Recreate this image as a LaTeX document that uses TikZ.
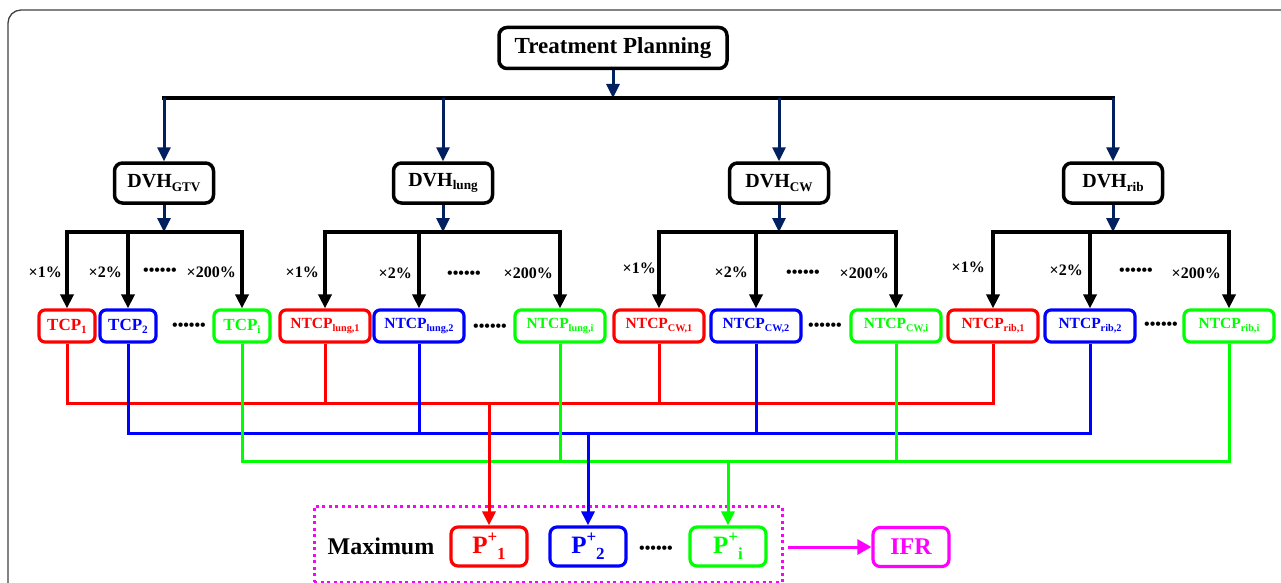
\documentclass[tikz,border=0pt]{standalone}
\usepackage{fontspec}
\setmainfont{Liberation Serif}
\usetikzlibrary{arrows.meta}
\definecolor{navyline}{RGB}{0,32,96}
\definecolor{cred}{RGB}{255,0,0}
\definecolor{cblue}{RGB}{0,0,255}
\definecolor{cgreen}{RGB}{0,255,0}
\definecolor{cmag}{RGB}{255,0,255}
\newcommand{\sbx}[1]{\raisebox{-.4ex}{\scalebox{.66}{#1}}}
\newcommand{\pplus}[1]{P\raisebox{.95ex}{\scalebox{.68}{+}}\raisebox{-.55ex}{\scalebox{.68}{#1}}}
\newcommand{\sixdots}{\textbullet\textbullet\textbullet\textbullet\textbullet\textbullet}

\begin{document}
\begin{tikzpicture}[x=1pt,y=-1pt,
		plan/.style={draw,line width=3.5pt,rounded corners=8pt,minimum width=228pt,minimum height=41pt,inner sep=0pt,font=\fontsize{23}{27}\selectfont\bfseries},
		dvh/.style={draw,line width=3.5pt,rounded corners=8pt,minimum width=99pt,minimum height=40pt,inner sep=0pt,font=\fontsize{20}{24}\selectfont\bfseries},
		tcp/.style={draw=#1,text=#1,line width=3.2pt,rounded corners=6pt,minimum width=56pt,minimum height=32pt,inner sep=0pt,font=\fontsize{17}{20}\selectfont\bfseries},
		ntcp/.style={tcp=#1,minimum width=90pt,font=\fontsize{15.5}{18}\selectfont\bfseries},
		pbox/.style={draw=#1,text=#1,line width=3.2pt,rounded corners=7pt,minimum width=76pt,minimum height=39pt,inner sep=0pt,font=\fontsize{25}{30}\selectfont\bfseries},
		pct/.style={anchor=east,inner sep=0pt,font=\fontsize{16}{18}\selectfont\bfseries},
		dotrow/.style={inner sep=0pt,font=\fontsize{16}{18}\selectfont\bfseries},
		navyarr/.style={navyline,line width=3pt,-{Triangle[length=14pt,width=13pt]}},
		tree/.style={line width=3.5pt,line cap=rect},
		treearr/.style={line width=3.5pt,-{Triangle[length=14pt,width=13pt]}},
		bus/.style={draw=#1,line width=3pt},
		busarr/.style={draw=#1,fill=#1,line width=3pt,-{Triangle[length=14pt,width=13pt]}}]
	\useasboundingbox (0,0) rectangle (1281,583);
	\begin{scope}
		\clip (0,0) rectangle (1281,583);
		\draw[black!75,line width=1.3pt,rounded corners=13pt] (8,10) rectangle (1320,620);
	\end{scope}

	\node[plan] (plan) at (613,48) {Treatment Planning};
	\coordinate (split) at (613,98);
	\node[dvh] (gtv) at (164,183) {DVH\sbx{GTV}};
	\node[dvh] (lung) at (443,183) {DVH\sbx{lung}};
	\node[dvh] (cw) at (779,183) {DVH\sbx{CW}};
	\node[dvh] (rib) at (1113,183) {DVH\sbx{rib}};
	\draw[navyarr] (plan) -- (split);
	\draw[tree] (gtv |- split) -- (rib |- split);
	\draw[navyarr] (gtv |- split) -- (gtv);
	\draw[navyarr] (lung |- split) -- (lung);
	\draw[navyarr] (cw |- split) -- (cw);
	\draw[navyarr] (rib |- split) -- (rib);

	\coordinate (gtvfork) at (164,232);
	\coordinate (lungfork) at (443,232);
	\coordinate (cwfork) at (779,232);
	\coordinate (ribfork) at (1113,232);

	\node[tcp=cred] (tcpa) at (67,326) {TCP\sbx{1}};
	\node[tcp=cblue] (tcpb) at (128,326) {TCP\sbx{2}};
	\node[dotrow] (tcpgap) at (189,327) {\sixdots};
	\node[tcp=cgreen] (tcpi) at (242,326) {TCP\sbx{i}};
	\node[ntcp=cred] (lunga) at (325,326) {NTCP\sbx{lung,1}};
	\node[ntcp=cblue] (lungb) at (419,326) {NTCP\sbx{lung,2}};
	\node[dotrow] (lunggap) at (490,328) {\sixdots};
	\node[ntcp=cgreen] (lungi) at (560,326) {NTCP\sbx{lung,i}};
	\node[ntcp=cred] (cwa) at (659,326) {NTCP\sbx{CW,1}};
	\node[ntcp=cblue] (cwb) at (756,326) {NTCP\sbx{CW,2}};
	\node[dotrow] (cwgap) at (825,327) {\sixdots};
	\node[ntcp=cgreen] (cwi) at (896,326) {NTCP\sbx{CW,i}};
	\node[ntcp=cred] (riba) at (993,326) {NTCP\sbx{rib,1}};
	\node[ntcp=cblue] (ribb) at (1090,326) {NTCP\sbx{rib,2}};
	\node[dotrow] (ribgap) at (1161,326) {\sixdots};
	\node[ntcp=cgreen] (ribi) at (1229,326) {NTCP\sbx{rib,i}};

	\draw[navyarr] (gtv) -- (gtvfork);
	\draw[tree] (tcpa |- gtvfork) -- (tcpi |- gtvfork);
	\draw[treearr] (tcpa |- gtvfork) -- (tcpa);
	\draw[treearr] (tcpb |- gtvfork) -- (tcpb);
	\draw[treearr] (tcpi |- gtvfork) -- (tcpi);
	\draw[navyarr] (lung) -- (lungfork);
	\draw[tree] (lunga |- lungfork) -- (lungi |- lungfork);
	\draw[treearr] (lunga |- lungfork) -- (lunga);
	\draw[treearr] (lungb |- lungfork) -- (lungb);
	\draw[treearr] (lungi |- lungfork) -- (lungi);
	\draw[navyarr] (cw) -- (cwfork);
	\draw[tree] (cwa |- cwfork) -- (cwi |- cwfork);
	\draw[treearr] (cwa |- cwfork) -- (cwa);
	\draw[treearr] (cwb |- cwfork) -- (cwb);
	\draw[treearr] (cwi |- cwfork) -- (cwi);
	\draw[navyarr] (rib) -- (ribfork);
	\draw[tree] (riba |- ribfork) -- (ribi |- ribfork);
	\draw[treearr] (riba |- ribfork) -- (riba);
	\draw[treearr] (ribb |- ribfork) -- (ribb);
	\draw[treearr] (ribi |- ribfork) -- (ribi);

	\node[pct] (gtvone) at (62,272) {×1\%};
	\node[pct] (gtvtwo) at (122,272) {×2\%};
	\node[dotrow] (gtvmid) at (160,272) {\sixdots};
	\node[pct] (gtvmax) at (236,272) {×200\%};
	\node[pct] (lungone) at (319,272) {×1\%};
	\node[pct] (lungtwo) at (412,273) {×2\%};
	\node[dotrow] (lungmid) at (464,275) {\sixdots};
	\node[pct] (lungmax) at (553,273) {×200\%};
	\node[pct] (cwone) at (656,268) {×1\%};
	\node[pct] (cwtwo) at (748,272) {×2\%};
	\node[dotrow] (cwmid) at (803,274) {\sixdots};
	\node[pct] (cwmax) at (889,273) {×200\%};
	\node[pct] (ribone) at (985,267) {×1\%};
	\node[pct] (ribtwo) at (1083,270) {×2\%};
	\node[dotrow] (ribmid) at (1136,272) {\sixdots};
	\node[pct] (ribmax) at (1221,273) {×200\%};

	\node[draw=cmag,line width=3pt,dash pattern=on 3pt off 3.5pt,minimum width=468pt,minimum height=76pt,inner sep=0pt] (maxbox) at (548,544) {};
	\node[font=\fontsize{24}{28}\selectfont\bfseries] (maxlabel) at (381,546) {Maximum};
	\node[pbox=cred] (pa) at (489,546.5) {\pplus{1}};
	\node[pbox=cblue] (pb) at (588,546.5) {\pplus{2}};
	\node[dotrow] (pgap) at (656,550) {\sixdots};
	\node[pbox=cgreen] (pi) at (728,546.5) {\pplus{i}};
	\node[pbox=cmag,font=\fontsize{24}{28}\selectfont\bfseries] (ifr) at (911,547) {IFR};

	\coordinate (redbus) at (489,403);
	\coordinate (bluebus) at (588,433);
	\coordinate (greenbus) at (728,461);
	\draw[bus=cred] (tcpa) -- (tcpa |- redbus) -- (riba |- redbus) -- (riba);
	\draw[bus=cred] (lunga) -- (lunga |- redbus);
	\draw[bus=cred] (cwa) -- (cwa |- redbus);
	\draw[bus=cblue] (tcpb) -- (tcpb |- bluebus) -- (ribb |- bluebus) -- (ribb);
	\draw[bus=cblue] (lungb) -- (lungb |- bluebus);
	\draw[bus=cblue] (cwb) -- (cwb |- bluebus);
	\draw[bus=cgreen] (tcpi) -- (tcpi |- greenbus) -- (ribi |- greenbus) -- (ribi);
	\draw[bus=cgreen] (lungi) -- (lungi |- greenbus);
	\draw[bus=cgreen] (cwi) -- (cwi |- greenbus);
	\draw[busarr=cred] (redbus) -- (pa);
	\draw[busarr=cblue] (bluebus) -- (pb);
	\draw[busarr=cgreen] (greenbus) -- (pi);
	\draw[busarr=cmag,-{Triangle[length=14pt,width=15pt]},shorten <=4pt] (maxbox.east |- ifr) -- (ifr);
\end{tikzpicture}
\end{document}
